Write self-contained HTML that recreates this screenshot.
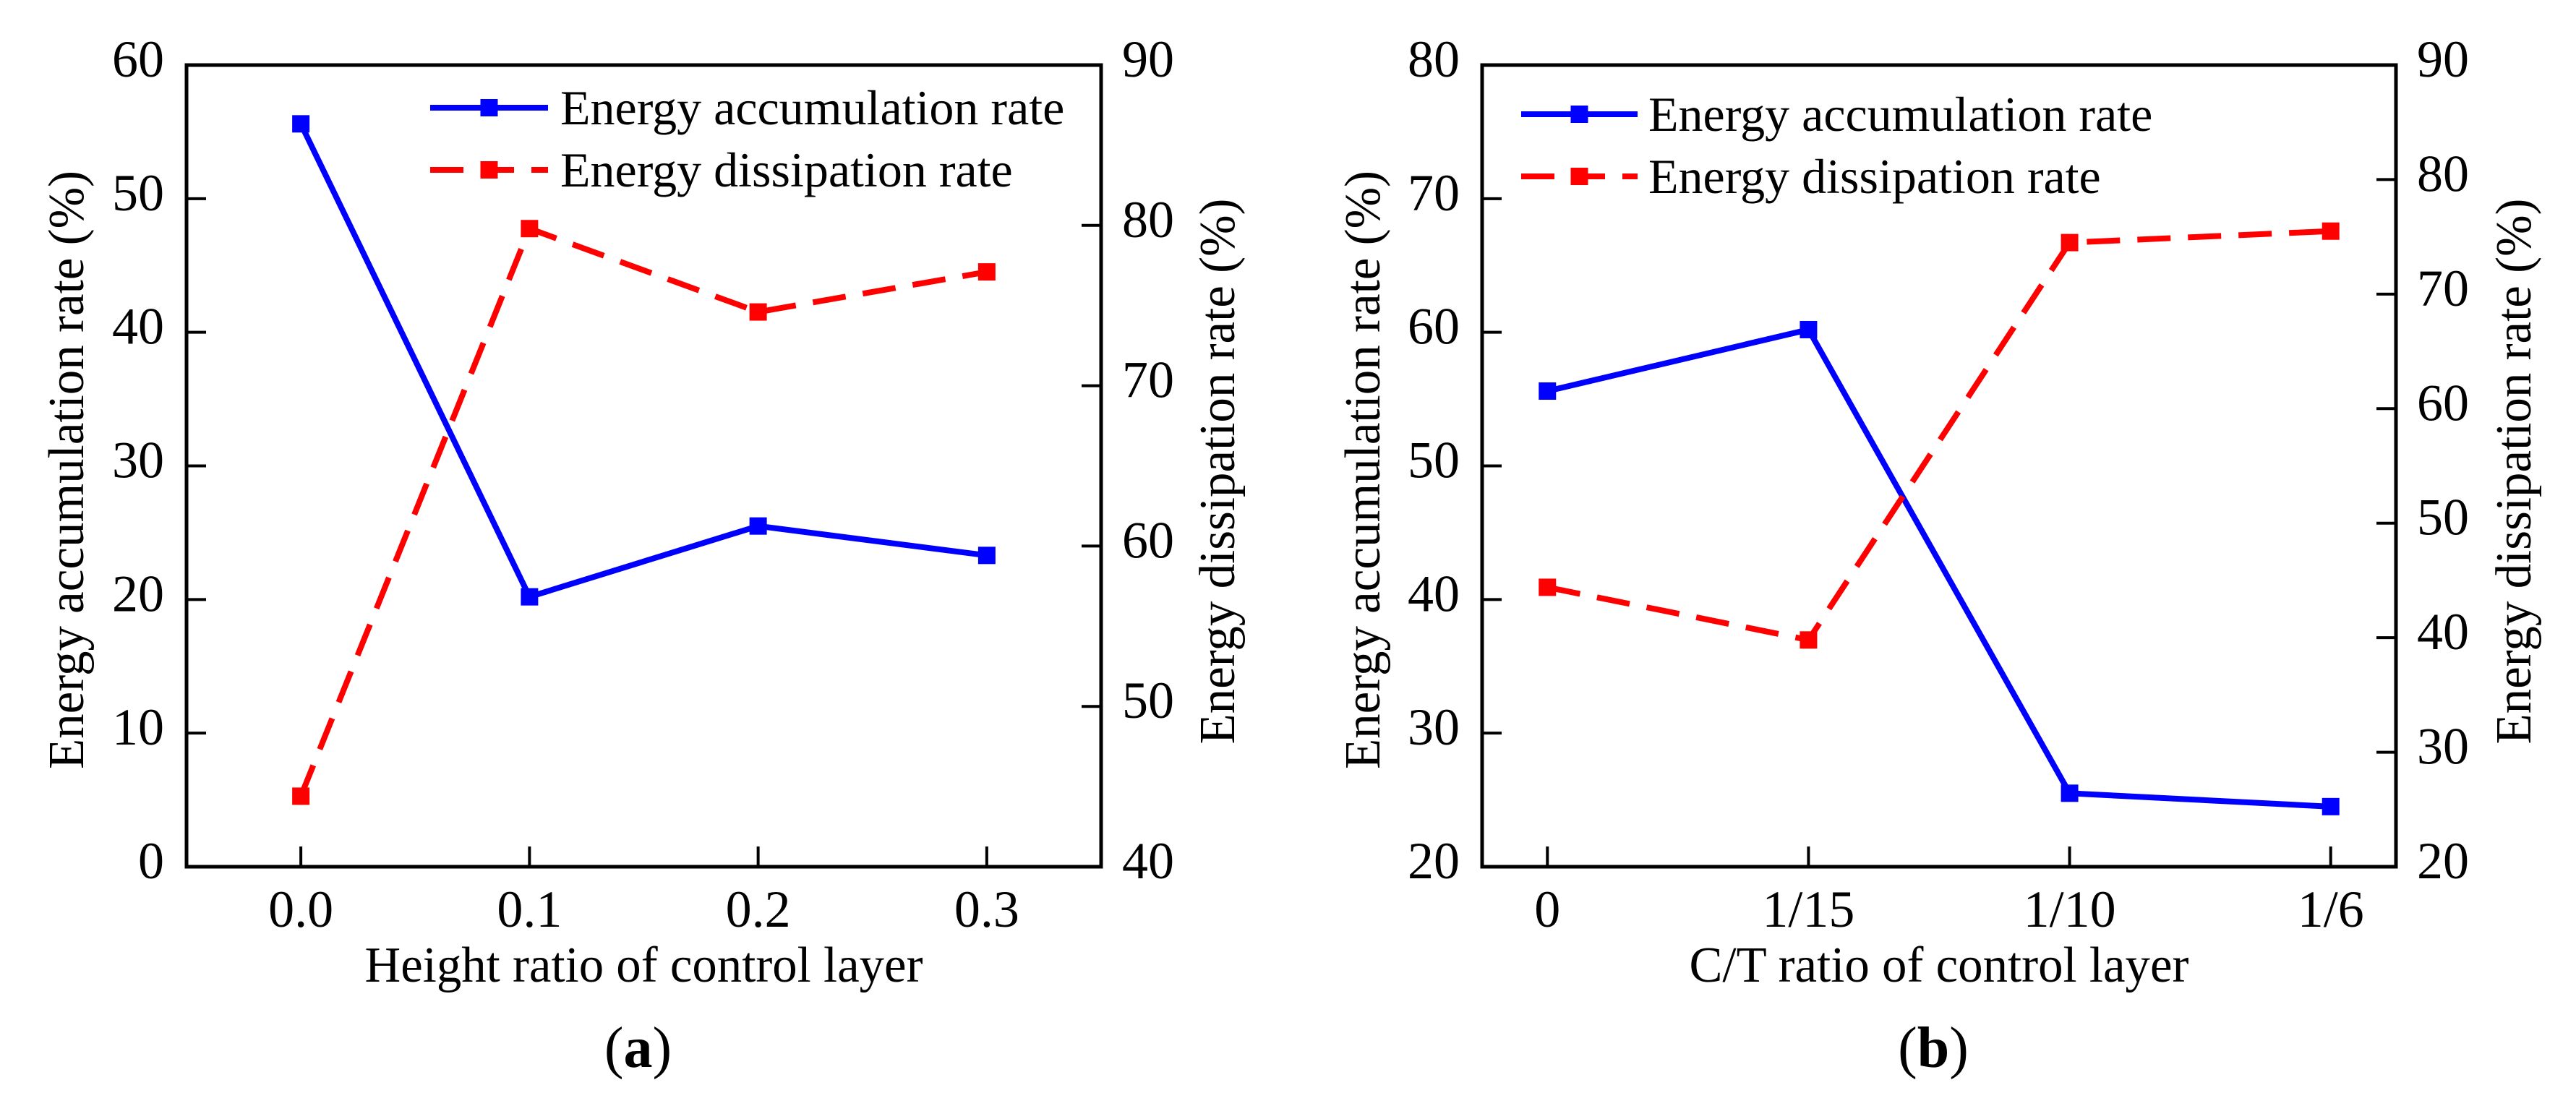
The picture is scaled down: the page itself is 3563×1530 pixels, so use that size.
<!DOCTYPE html>
<html><head><meta charset="utf-8"><style>
html,body{margin:0;padding:0;background:#fff;}
svg{display:block;font-family:"Liberation Serif",serif;}
</style></head><body>
<svg id="fig" width="3563" height="1530" viewBox="0 0 3563 1530" xmlns="http://www.w3.org/2000/svg"></svg>
<script>
// Panel (a) data
const catsA = ["0.0","0.1","0.2","0.3"];
const xValsA = [0.0, 0.1, 0.2, 0.3];
const accA = [55.6, 20.2, 25.5, 23.3];
const disA = [44.4, 79.8, 74.6, 77.1];
const leftTicksA = [0,10,20,30,40,50,60];
const rightTicksA = [40,50,60,70,80,90];
// Panel (b) data
const catsB = ["0","1/15","1/10","1/6"];
const xValsB = [0, 1, 2, 3];
const accB = [55.6, 60.2, 25.5, 24.5];
const disB = [44.4, 39.8, 74.5, 75.5];
const leftTicksB = [20,30,40,50,60,70,80];
const rightTicksB = [20,30,40,50,60,70,80,90];

const NS = "http://www.w3.org/2000/svg";
const svg = document.getElementById("fig");
function mk(tag, attrs, parent, text){
  const e = document.createElementNS(NS, tag);
  for (const k in attrs) e.setAttribute(k, attrs[k]);
  if (text !== undefined) e.textContent = text;
  (parent||svg).appendChild(e);
  return e;
}

function panel(cfg){
  const g = mk("g", {});
  
  
  const L=cfg.L, R=cfg.R, T=90, B=1199;
  const xs = v => L + (v - cfg.xMin)/(cfg.xMax - cfg.xMin)*(R-L);
  const yl = v => B - (v - cfg.lMin)/(cfg.lMax - cfg.lMin)*(B-T);
  const yr = v => B - (v - cfg.rMin)/(cfg.rMax - cfg.rMin)*(B-T);

  const frame = mk("rect", {x:L, y:T, width:R-L, height:B-T, fill:"none", stroke:"#000", "stroke-width":5}, g);
  
  

  cfg.lt.forEach(v=>{
    const y=yl(v);
    const t=mk("line",{x1:L,x2:L+27,y1:y,y2:y,stroke:"#000","stroke-width":4},g);
    
    
    const lb=mk("text",{x:L-31,y:y+16,"font-size":72,"text-anchor":"end"},g,String(v));
    
    
  });
  cfg.rt.forEach(v=>{
    const y=yr(v);
    const t=mk("line",{x1:R-27,x2:R,y1:y,y2:y,stroke:"#000","stroke-width":4},g);
    
    
    const lb=mk("text",{x:R+29,y:y+16,"font-size":72,"text-anchor":"start"},g,String(v));
    
    
  });
  cfg.xv.forEach((v,i)=>{
    const x=xs(v);
    const t=mk("line",{x1:x,x2:x,y1:B-28,y2:B,stroke:"#000","stroke-width":4},g);
    
    
    const lb=mk("text",{x:x,y:1282,"font-size":72,"text-anchor":"middle"},g,cfg.cats[i]);
    
    
  });

  const cx=(L+R)/2;
  const xt=mk("text",{x:cx,y:1358,"font-size":70,"text-anchor":"middle",textLength:cfg.xtLen,lengthAdjust:"spacingAndGlyphs"},g,cfg.xTitle);
  
  
  const ylT=mk("text",{x:0,y:0,"font-size":70,"text-anchor":"middle",textLength:828,lengthAdjust:"spacingAndGlyphs",transform:`translate(${cfg.ylx},650) rotate(-90)`},g,"Energy accumulation rate (%)");
  
  
  const yrT=mk("text",{x:0,y:0,"font-size":70,"text-anchor":"middle",textLength:755,lengthAdjust:"spacingAndGlyphs",transform:`translate(${cfg.yrx},652) rotate(-90)`},g,"Energy dissipation rate (%)");
  
  
  const cap=mk("text",{x:cx-8,y:1476,"font-size":80,"text-anchor":"middle"},g);
  
  
  mk("tspan",{},cap,"(");
  mk("tspan",{"font-weight":"bold"},cap,cfg.letter);
  mk("tspan",{},cap,")");

  const accPts = cfg.acc.map((v,i)=>[xs(cfg.xv[i]), yl(v)]);
  const disPts = cfg.dis.map((v,i)=>[xs(cfg.xv[i]), yr(v)]);
  const l1=mk("polyline",{points:accPts.map(p=>p.join(",")).join(" "),fill:"none",stroke:"#0000ff","stroke-width":8},g);
  
  
  const l2=mk("polyline",{points:disPts.map(p=>p.join(",")).join(" "),fill:"none",stroke:"#ff0000","stroke-width":8,"stroke-dasharray":"46 24"},g);
  
  
  accPts.forEach(p=>{
    const m=mk("rect",{x:p[0]-12,y:p[1]-12,width:24,height:24,fill:"#0000ff"},g);
    
    
  });
  disPts.forEach(p=>{
    const m=mk("rect",{x:p[0]-12,y:p[1]-12,width:24,height:24,fill:"#ff0000"},g);
    
    
  });

  const lg=mk("g",{},g);
  
  
  const e1=mk("g",{},lg);
  
  
  mk("line",{x1:cfg.lgx1,x2:cfg.lgx2,y1:cfg.lgy1,y2:cfg.lgy1,stroke:"#0000ff","stroke-width":8},e1);
  mk("rect",{x:(cfg.lgx1+cfg.lgx2)/2-12,y:cfg.lgy1-12,width:24,height:24,fill:"#0000ff"},e1);
  mk("text",{x:cfg.lgtx,y:cfg.lgy1+23,"font-size":68},e1,"Energy accumulation rate");
  const e2=mk("g",{},lg);
  
  
  mk("line",{x1:cfg.lgx1,x2:cfg.lgx2,y1:cfg.lgy2,y2:cfg.lgy2,stroke:"#ff0000","stroke-width":8,"stroke-dasharray":"46 24"},e2);
  mk("rect",{x:(cfg.lgx1+cfg.lgx2)/2-12,y:cfg.lgy2-12,width:24,height:24,fill:"#ff0000"},e2);
  mk("text",{x:cfg.lgtx,y:cfg.lgy2+23,"font-size":68},e2,"Energy dissipation rate");
}

panel({name:"panel-a",L:258,R:1523,xMin:-0.05,xMax:0.35,lMin:0,lMax:60,rMin:40,rMax:90,
  cats:catsA,xv:xValsA,acc:accA,dis:disA,lt:leftTicksA,rt:rightTicksA,
  xTitle:"Height ratio of control layer",xtLen:772,ylx:115,yrx:1707,letter:"a",
  lgx1:595,lgx2:758,lgtx:775,lgy1:149,lgy2:235});
panel({name:"panel-b",L:2050,R:3314,xMin:-0.25,xMax:3.25,lMin:20,lMax:80,rMin:20,rMax:90,
  cats:catsB,xv:xValsB,acc:accB,dis:disB,lt:leftTicksB,rt:rightTicksB,
  xTitle:"C/T ratio of control layer",xtLen:691,ylx:1908,yrx:3500,letter:"b",
  lgx1:2104,lgx2:2265,lgtx:2280,lgy1:158,lgy2:244});
</script>
</body></html>
